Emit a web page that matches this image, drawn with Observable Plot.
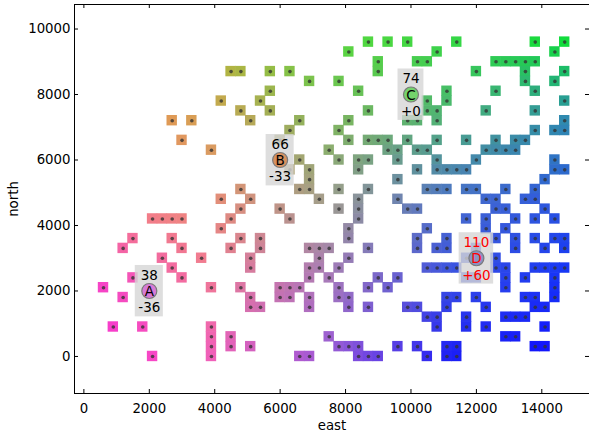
<!DOCTYPE html>
<html><head><meta charset="utf-8">
<script src="https://cdn.jsdelivr.net/npm/d3@7"></script>
<script src="https://cdn.jsdelivr.net/npm/@observablehq/plot@0.6"></script>
<style>html,body{margin:0;padding:0;background:#fff}svg{display:block}</style>
</head><body><div id="chart"></div>
<script>
// ---- data ----
const rowNorth = [9600,9300,9000,8700,8400,8100,7800,7500,7200,6900,6600,6300,6000,5700,5400,5100,4800,4500,4200,3900,3600,3300,3000,2700,2400,2100,1800,1500,1200,900,600,300,0];
const rowEast = [
  [8700,9300,9900,11400,13800,14700],
  [8100,10800,14400],
  [9000,10200,10500,12600,12900,13200,13500,13800],
  [4500,4800,5700,6300,9000,12000,13500,14700],
  [6900,7800,13500,14400],
  [5700,8400,11100,12600,13800],
  [4200,5400,10500,11100,14700],
  [4800,5700,8700,10500,10800,12300,13800],
  [2700,3300,5100,6600,8100,9900,10200,10800,14700],
  [6300,7800,13800,14400,14700],
  [3000,6000,8100,8700,9000,9300,9900,10800,11700,12600,13200,13500],
  [3900,7500,9300,9600,10200,10500,12300,12600,12900,13200],
  [6600,7800,8400,8700,9600,10800,12000,14400],
  [6300,6900,8400,10200,10800,11100,11400,11700,14400,14700],
  [6900,9600,14100],
  [4800,6600,6900,7800,8700,10500,10800,11100,11700,12000,12900,13800],
  [4200,5100,7200,8400,9600,12300,12600,13500,13800],
  [4800,6000,7800,8400,9900,10200,12600,12900,14100],
  [2100,2400,2700,3000,4500,6300,8400,11700,12300,13200,13800,14400],
  [4200,8100,10500,12300,12900],
  [1500,2700,4800,5400,8100,10200,11100,12600,13200,13800,14400,14700],
  [1200,3000,4500,5400,6900,7200,7500,8700,10200,10800,11100,12000,13200,14100,14700],
  [2400,3600,5100,7200,8100,11700,12600],
  [2700,5100,6900,7200,7800,10500,10800,11100,11400,12600,12900,13800,14100,14400,14700],
  [1500,3000,6900,7500,9000,9600,11700,12000,12900,13500,14400],
  [600,3900,4800,6000,6300,6600,7800,8700,9300,12900,14400],
  [1200,5100,6000,6300,6900,7800,8100,11100,11400,12000,13500,13800,14400],
  [5100,5400,6900,8100,8700,9900,10200,11100,12300,13800,14100],
  [10500,10800,11700,12900,13200,13500],
  [900,1800,3900,10800,11700,12300,14100],
  [3900,4500,7500,12900,13200],
  [3900,4500,5100,7800,8100,8400,9600,10200,11100,11400,13800,14100],
  [2100,3900,6600,6900,8400,8700,9000,10500,11100,11400]
];
const stationName = ["A","B","C","D"];
const stationEast = [2000,6000,10000,12000];
const stationNorth = [2000,6000,8000,3000];
const stationUpper = ["38","66","74","110"];
const stationLower = ["-36","-33","+0","+60"];
const xTicks = [0,2000,4000,6000,8000,10000,12000,14000];
const yTicks = [0,2000,4000,6000,8000,10000];
const cellSize = 300;

// ---- colour style: 2-D colour field sampled on a 5x5 control grid ----
const ctrlX = [0,3750,7500,11250,15000], ctrlY = [0,2400,4800,7200,9600];
const ctrlColors = [ // rows bottom -> top
  ["rgb(250,40,215)","rgb(244,96,184)","rgb(155,90,215)","rgb(28,32,245)","rgb(12,12,255)"],
  ["rgb(245,62,205)","rgb(242,120,150)","rgb(168,122,185)","rgb(58,80,226)","rgb(18,48,250)"],
  ["rgb(250,128,132)","rgb(235,140,118)","rgb(160,160,140)","rgb(74,112,202)","rgb(40,85,225)"],
  ["rgb(250,132,92)","rgb(212,162,84)","rgb(128,182,94)","rgb(78,176,122)","rgb(45,135,180)"],
  ["rgb(255,150,50)","rgb(185,182,55)","rgb(92,215,62)","rgb(55,215,70)","rgb(15,220,60)"]
];
function colorAt(x,y){
  const nx = ctrlX.length-1, ny = ctrlY.length-1;
  const fx = Math.max(0,Math.min(nx-1e-6,(x-ctrlX[0])/(ctrlX[1]-ctrlX[0])));
  const fy = Math.max(0,Math.min(ny-1e-6,(y-ctrlY[0])/(ctrlY[1]-ctrlY[0])));
  const ix = Math.floor(fx), iy = Math.floor(fy), tx = fx-ix, ty = fy-iy;
  const bot = d3.interpolateRgb(ctrlColors[iy][ix], ctrlColors[iy][ix+1])(tx);
  const top = d3.interpolateRgb(ctrlColors[iy+1][ix], ctrlColors[iy+1][ix+1])(tx);
  return d3.interpolateRgb(bot, top)(ty);
}

const cells = rowNorth.flatMap((n,k)=>rowEast[k].map(e=>({east:e,north:n})));
const stations = stationName.map((s,i)=>({name:s,east:stationEast[i],north:stationNorth[i],upper:stationUpper[i],lower:stationLower[i]}));
const stationFill = {A:"#d77ad7", B:"#d8905e", C:"#74d46c", D:"#8a92c4"};

const W = 589, H = 435, mL = 74, mR = 0, mT = 4, mB = 42;
const innerW = W-mL-mR, innerH = H-mT-mB;
const half = cellSize/2;

const chart = Plot.plot({
  width: W, height: H,
  marginLeft: mL, marginRight: mR, marginTop: mT, marginBottom: mB,
  x: {domain: [-287, 15458]},
  y: {domain: [-1131, 10749]},
  style: {fontFamily: "DejaVu Sans", fontSize: "13.3px", background: "white", color: "black", overflow: "visible"},
  marks: [
    Plot.rect(cells, {x1: d=>d.east-half, x2: d=>d.east+half, y1: d=>d.north-half, y2: d=>d.north+half,
      fill: d=>colorAt(d.east,d.north), inset: -0.3}),
    Plot.dot(cells, {x:"east", y:"north", r: 1.8, fill: "#333", fillOpacity: 0.8}),
    Plot.dot(stations, {x:"east", y:"north", r: 7.5, fill: d=>stationFill[d.name], stroke: "#7a7a7a", strokeWidth: 1.2}),
    Plot.text(stations, {x:"east", y:"north", text: d=>`${d.upper}\n${d.name}\n${d.lower}`, lineHeight: 1.2,
      fill: d=>d.name==="D"?"red":"black", fontSize: 13.5}),
    Plot.axisX(xTicks, {anchor:"bottom", tickSize: 0, tickPadding: 10, tickFormat: d3.format("d"),
      label: "east", labelAnchor:"center", labelOffset: 36, labelArrow: "none"}),
    Plot.axisY(yTicks, {anchor:"left", tickSize: 0, tickPadding: 4, tickFormat: d3.format("d"),
      label: "north", labelAnchor:"center", labelOffset: 66, labelArrow: "none"}),
    Plot.tickX(xTicks, {x: d=>d, insetTop: innerH-4, stroke: "black"}),
    Plot.tickX(xTicks, {x: d=>d, insetBottom: innerH-4, stroke: "black"}),
    Plot.tickY(yTicks, {y: d=>d, insetRight: innerW-4, stroke: "black"}),
    Plot.tickY(yTicks, {y: d=>d, insetLeft: innerW-4, stroke: "black"}),
    Plot.frame({stroke: "black", strokeWidth: 1})
  ]
});
document.getElementById("chart").appendChild(chart);

// label boxes (text bbox) drawn between the cells and the station circles
const NS = "http://www.w3.org/2000/svg";
const textGroup = chart.querySelector('g[aria-label="text"]');
const dotGroups = chart.querySelectorAll('g[aria-label="dot"]');
if (textGroup) {
  const boxes = document.createElementNS(NS,"g");
  textGroup.querySelectorAll("text").forEach(t=>{
    const b = t.getBBox();
    const r = document.createElementNS(NS,"rect");
    r.setAttribute("x", b.x-3); r.setAttribute("y", b.y-1.5);
    r.setAttribute("width", b.width+6); r.setAttribute("height", b.height+3);
    r.setAttribute("fill", "#d6d6d6"); r.setAttribute("fill-opacity", "0.8");
    const tr = t.getAttribute("transform");
    if (tr) r.setAttribute("transform", tr);
    boxes.appendChild(r);
  });
  const before = dotGroups.length > 1 ? dotGroups[1] : textGroup;
  before.parentNode.insertBefore(boxes, before);
}
</script></body></html>
